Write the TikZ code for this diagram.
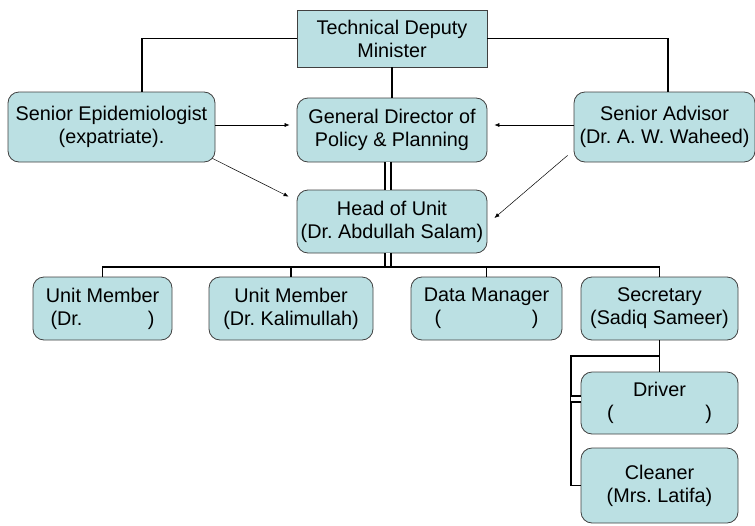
\documentclass[tikz,border=0pt]{standalone}
\usepackage{fontspec}
\setmainfont{Liberation Sans}
\usetikzlibrary{arrows.meta}
\definecolor{boxfill}{RGB}{187,224,227}
\definecolor{boxline}{RGB}{64,64,64}
\frenchspacing

\begin{document}
\begin{tikzpicture}[x=1pt, y=-1pt,
    box/.style={draw=boxline, fill=boxfill, line width=0.8pt, rounded corners=11pt,
        align=center, inner sep=0pt, font=\fontsize{19.8}{23}\selectfont},
    link/.style={line width=1.8pt, black},
    twin/.style={line width=2pt, double, double distance=4pt},
    hint/.style={line width=0.5pt, -{Latex[length=5pt, width=4pt]}}]
    \useasboundingbox (0,0) rectangle (755,525);
    % top row
    \node[box, rounded corners=0pt, minimum width=190pt, minimum height=57pt] (tdm) at (392,38.5) {Technical Deputy\\Minister};
    \node[box, minimum width=207pt, minimum height=70pt] (epi) at (111.5,127) {Senior Epidemiologist\\(expatriate).};
    \node[box, minimum width=190pt, minimum height=64pt] (gdp) at (392,130) {General Director of\\Policy \& Planning};
    \node[box, minimum width=181pt, minimum height=70pt] (adv) at (664.5,127) {Senior Advisor\\(Dr. A. W. Waheed)};
    \node[box, minimum width=190pt, minimum height=63pt] (hou) at (392,221.5) {Head of Unit\\(Dr. Abdullah Salam)};
    % unit row
    \node[box, minimum width=139pt, minimum height=63pt] (um1) at (102.5,308.5) {Unit Member\\\makebox[104pt]{(Dr.\hfill)}};
    \node[box, minimum width=164pt, minimum height=63pt] (um2) at (291,308.5) {Unit Member\\(Dr. Kalimullah)};
    \node[box, minimum width=151pt, minimum height=63pt] (dm) at (486.5,308.5) {Data Manager\\\makebox[104pt]{(\hfill)}};
    \node[box, minimum width=157pt, minimum height=63pt] (sec) at (659.5,308.5) {Secretary\\(Sadiq Sameer)};
    \node[box, minimum width=157pt, minimum height=62pt] (drv) at (659.5,403) {Driver\\\makebox[105pt]{(\hfill)}};
    \node[box, minimum width=157pt, minimum height=75pt] (cln) at (659.5,485.5) {Cleaner\\(Mrs. Latifa)};
    \coordinate (bus) at (388,267);
    \coordinate (sp) at (571,356);
    % lines
    \draw[link] (tdm.west) -| ([xshift=30.5pt]epi.north);
    \draw[link] (tdm.east) -| ([xshift=3.5pt]adv.north);
    \draw[link] (tdm.south) -- (gdp.north);
    \draw[twin] ([xshift=-4pt]gdp.south) -- ([xshift=-4pt]hou.north);
    \draw[twin] ([xshift=-4pt]hou.south) -- (bus);
    \draw[link] (um1.north) |- (bus) -| (sec.north);
    \draw[link] (um2.north) -- (um2.north |- bus);
    \draw[link] (dm.north) -- (dm.north |- bus);
    \draw[link] (sec.south) -- (drv.north);
    \draw[link] (sec.south |- sp) -- (sp) |- (cln.west);
    \draw[twin] ([yshift=4pt]drv.west) -- ([yshift=4pt]drv.west -| sp);
    % arrows
    \draw[hint, shorten >=7pt] (epi.east |- 0,125) -- (gdp.west |- 0,125);
    \draw[hint] ([shift={(-3pt,4pt)}]epi.south east) -- ([shift={(-8pt,-7pt)}]hou.north west);
    \draw[hint, shorten >=7pt] (adv.west |- 0,125) -- (gdp.east |- 0,125);
    \draw[hint] ([shift={(-6pt,7pt)}]adv.south west) -- ([shift={(7pt,3.5pt)}]hou.east);
\end{tikzpicture}
\end{document}
